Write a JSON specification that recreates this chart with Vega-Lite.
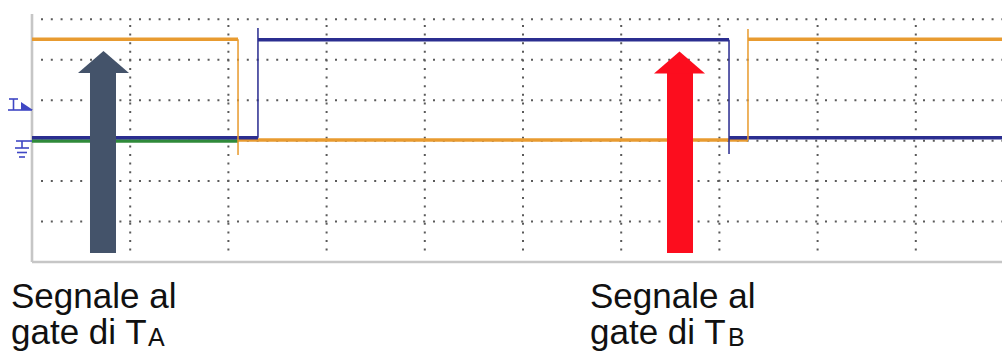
{
  "$schema": "https://vega.github.io/schema/vega-lite/v6.json",
  "width": 1002,
  "height": 352,
  "autosize": {"type": "none"},
  "padding": 0,
  "background": "white",
  "config": {"view": {"stroke": null}},
  "datasets": {
    "hgrid": [
      {"x": 0.0916, "x2": 9.8778, "y": 1},
      {"x": 0.0916, "x2": 9.8778, "y": 2},
      {"x": 0.0916, "x2": 9.8778, "y": 3},
      {"x": 0.0916, "x2": 9.8778, "y": 4},
      {"x": 0.0916, "x2": 9.8778, "y": 5},
      {"x": 0.0916, "x2": 9.8778, "y": 6}
    ],
    "vgrid": [
      {"x": 1, "y": 5.859, "y2": 0.222},
      {"x": 2, "y": 5.859, "y2": 0.222},
      {"x": 3, "y": 5.859, "y2": 0.222},
      {"x": 4, "y": 5.859, "y2": 0.222},
      {"x": 5, "y": 5.859, "y2": 0.222},
      {"x": 6, "y": 5.859, "y2": 0.222},
      {"x": 7, "y": 5.859, "y2": 0.222},
      {"x": 8, "y": 5.859, "y2": 0.222},
      {"x": 9, "y": 5.859, "y2": 0.222}
    ],
    "frame": [
      {"x": 0, "y": 6.131, "x2": 0, "y2": 0},
      {"x": 0, "y": 0, "x2": 9.8778, "y2": 0}
    ],
    "markers": [
      {"x": -0.2342, "y": 4.0297, "x2": -0.1426, "y2": 4.0297},
      {"x": -0.1884, "y": 4.0297, "x2": -0.1884, "y2": 3.7577},
      {"x": -0.2444, "y": 3.7577, "x2": 0, "y2": 3.7577},
      {"x": -0.1629, "y": 2.9913, "x2": 0, "y2": 2.9913},
      {"x": -0.1018, "y": 2.9913, "x2": -0.1018, "y2": 2.8183},
      {"x": -0.1731, "y": 2.8183, "x2": -0.0305, "y2": 2.8183},
      {"x": -0.1527, "y": 2.707, "x2": -0.0509, "y2": 2.707},
      {"x": -0.1324, "y": 2.5958, "x2": -0.0713, "y2": 2.5958}
    ],
    "trigger": [
      {"x": -0.0509, "y": 3.8566}
    ],
    "levels": [
      {"trace": "CH3", "x": 0, "x2": 2.098, "y": 2.991},
      {"trace": "CH1", "x": 0, "x2": 2.098, "y": 5.506},
      {"trace": "CH1", "x": 2.098, "x2": 7.291, "y": 3.016},
      {"trace": "CH1", "x": 7.291, "x2": 9.8778, "y": 5.506},
      {"trace": "CH2", "x": 0, "x2": 2.301, "y": 3.073},
      {"trace": "CH2", "x": 2.301, "x2": 7.098, "y": 5.493},
      {"trace": "CH2", "x": 7.098, "x2": 9.8778, "y": 3.073}
    ],
    "edges": [
      {"trace": "CH1", "x": 2.098, "y": 5.506, "y2": 2.645},
      {"trace": "CH1", "x": 7.291, "y": 3.016, "y2": 5.76},
      {"trace": "CH2", "x": 2.301, "y": 3.073, "y2": 5.785},
      {"trace": "CH2", "x": 7.098, "y": 5.493, "y2": 2.67}
    ],
    "shafts": [
      {"arrow": "A", "x": 0.5906, "x2": 0.8554, "y": 0.2225, "y2": 4.6971},
      {"arrow": "B", "x": 6.4664, "x2": 6.7312, "y": 0.2225, "y2": 4.6971}
    ],
    "heads": [
      {"arrow": "A", "x": 0.7281, "y": 4.9444},
      {"arrow": "B", "x": 6.5937, "y": 4.932}
    ],
    "labels": [
      {"x": -0.2139, "y": -1.1372, "text": "Segnale al"},
      {"x": -0.2139, "y": -2.0272, "text": "gate di T"},
      {"x": 5.6823, "y": -1.1372, "text": "Segnale al"},
      {"x": 5.6823, "y": -2.0272, "text": "gate di T"}
    ],
    "subscripts": [
      {"x": 1.1813, "y": -2.0766, "text": "A"},
      {"x": 7.0876, "y": -2.0766, "text": "B"}
    ]
  },
  "encoding": {
    "x": {"field": "x", "type": "quantitative", "scale": {"domain": [-0.32587, 9.8778], "nice": false, "zero": false}, "axis": null},
    "y": {"field": "y", "type": "quantitative", "scale": {"domain": [-2.225, 6.4771], "nice": false, "zero": false}, "axis": null}
  },
  "layer": [
    {
      "data": {"name": "hgrid"},
      "mark": {"type": "rule", "stroke": "#5a5a5a", "strokeWidth": 2, "strokeDash": [2, 7.8]},
      "encoding": {"x2": {"field": "x2"}}
    },
    {
      "data": {"name": "vgrid"},
      "mark": {"type": "rule", "stroke": "#5a5a5a", "strokeWidth": 2, "strokeDash": [2, 6.6]},
      "encoding": {"y2": {"field": "y2"}}
    },
    {
      "data": {"name": "frame"},
      "mark": {"type": "rule", "stroke": "#c6c6c6", "strokeWidth": 2.6},
      "encoding": {"x2": {"field": "x2"}, "y2": {"field": "y2"}}
    },
    {
      "data": {"name": "markers"},
      "mark": {"type": "rule", "stroke": "#3f47c4", "strokeWidth": 1.6},
      "encoding": {"x2": {"field": "x2"}, "y2": {"field": "y2"}}
    },
    {
      "data": {"name": "trigger"},
      "mark": {"type": "point", "shape": "M-1,-0.667L-1,0.667L1,0.667Z", "size": 144, "filled": true, "fill": "#3f47c4", "opacity": 1, "strokeWidth": 0}
    },
    {
      "data": {"name": "levels"},
      "mark": {"type": "rule", "strokeWidth": 3.5},
      "encoding": {
        "x2": {"field": "x2"},
        "color": {"field": "trace", "type": "nominal", "scale": {"domain": ["CH1", "CH2", "CH3"], "range": ["#e89b30", "#2b2e90", "#2f8a3a"]}, "legend": null}
      }
    },
    {
      "data": {"name": "edges"},
      "mark": {"type": "rule", "strokeWidth": 1.8, "opacity": 0.85},
      "encoding": {
        "y2": {"field": "y2"},
        "color": {"field": "trace", "type": "nominal", "legend": null}
      }
    },
    {
      "data": {"name": "shafts"},
      "mark": {"type": "rect"},
      "encoding": {
        "x2": {"field": "x2"},
        "y2": {"field": "y2"},
        "fill": {"field": "arrow", "type": "nominal", "scale": {"domain": ["A", "B"], "range": ["#44536a", "#fc0d1e"]}, "legend": null}
      }
    },
    {
      "data": {"name": "heads"},
      "mark": {"type": "point", "shape": "M-1,0.431L0,-0.431L1,0.431Z", "size": 2601, "filled": true, "opacity": 1, "strokeWidth": 0},
      "encoding": {
        "fill": {"field": "arrow", "type": "nominal", "legend": null}
      }
    },
    {
      "data": {"name": "labels"},
      "mark": {"type": "text", "align": "left", "baseline": "alphabetic", "font": "Liberation Sans", "fontSize": 35, "fill": "#111111"},
      "encoding": {"text": {"field": "text"}}
    },
    {
      "data": {"name": "subscripts"},
      "mark": {"type": "text", "align": "left", "baseline": "alphabetic", "font": "Liberation Sans", "fontSize": 25, "fill": "#111111"},
      "encoding": {"text": {"field": "text"}}
    }
  ]
}
